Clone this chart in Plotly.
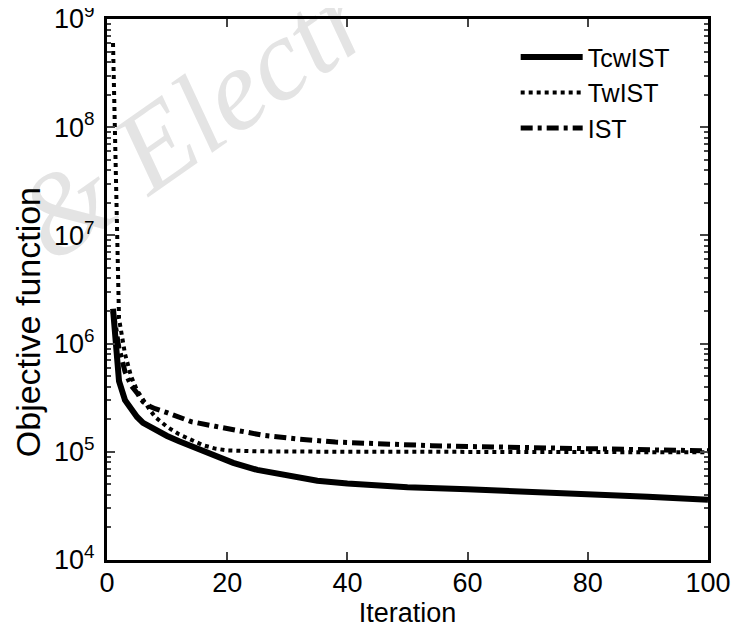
import plotly.graph_objects as go

# objective function per iteration
tcw_iter = [1, 2, 3, 4, 5, 6, 8, 10, 12, 15, 18, 21, 25, 30, 35, 40, 45, 50, 60, 70, 80, 90, 100]
tcw_obj = [2.1e6, 4.5e5, 3.0e5, 2.5e5, 2.1e5, 1.85e5, 1.58e5, 1.4e5, 1.25e5, 1.08e5, 9.2e4, 7.9e4,
           6.8e4, 6.0e4, 5.4e4, 5.1e4, 4.85e4, 4.7e4, 4.5e4, 4.3e4, 4.1e4, 3.85e4, 3.6e4]

tw_iter = [1, 2, 3, 4, 5, 6, 7, 8, 10, 12, 14, 16, 18, 20, 25, 30, 40, 50, 60, 70, 80, 90, 100]
tw_obj = [6e8, 1.7e6, 8e5, 5e5, 3.7e5, 3.0e5, 2.5e5, 2.1e5, 1.7e5, 1.45e5, 1.28e5, 1.15e5, 1.07e5,
          1.03e5, 1.01e5, 1.0e5, 1.0e5, 1.0e5, 1.0e5, 1.0e5, 1.0e5, 0.99e5, 0.99e5]

ist_iter = [1, 2, 3, 4, 5, 6, 7, 8, 10, 14, 18, 21, 26, 32, 38, 43, 48, 54, 60, 71, 80, 88, 100]
ist_obj = [2.0e6, 9e5, 5.5e5, 4.1e5, 3.5e5, 2.9e5, 2.65e5, 2.5e5, 2.3e5, 1.9e5, 1.72e5, 1.6e5, 1.42e5,
           1.31e5, 1.23e5, 1.2e5, 1.16e5, 1.14e5, 1.12e5, 1.09e5, 1.06e5, 1.04e5, 1.02e5]

y_tickvals = [1e4, 1e5, 1e6, 1e7, 1e8, 1e9]
y_ticktext = ['10<sup>4</sup>', '10<sup>5</sup>', '10<sup>6</sup>', '10<sup>7</sup>', '10<sup>8</sup>', '10<sup>9</sup>']
x_tickvals = [0, 20, 40, 60, 80, 100]

FONT = 'Liberation Sans, Arial, sans-serif'

fig = go.Figure()
fig.add_trace(go.Scatter(x=tcw_iter, y=tcw_obj, mode='lines', name='TcwIST',
                         line=dict(color='black', width=6)))
fig.add_trace(go.Scatter(x=tw_iter, y=tw_obj, mode='lines', name='TwIST',
                         line=dict(color='black', width=4, dash='dot')))
fig.add_trace(go.Scatter(x=ist_iter, y=ist_obj, mode='lines', name='IST',
                         line=dict(color='black', width=5, dash='12px,5px,4px,5px')))

# faint watermark behind the axes
fig.add_shape(type='rect', xref='paper', yref='paper', x0=0.126, x1=0.138, y0=0.829, y1=0.845,
              line=dict(width=0), layer='below',
              label=dict(text='&amp; Electr', textangle=-35, textposition='middle center',
                         font=dict(family='Liberation Serif, Times New Roman, serif', size=116,
                                   color='#e4e4e4', style='italic')))

# y label sits a little below the axis centre in the reference
fig.add_annotation(text='Objective function', xref='paper', yref='paper', x=-0.131, y=0.44,
                   xanchor='center', yanchor='middle', textangle=-90, showarrow=False,
                   font=dict(family=FONT, size=34, color='black'))

fig.update_xaxes(range=[0, 100], tickvals=x_tickvals, ticks='inside', ticklen=8, tickwidth=2,
                 showline=True, linecolor='black', linewidth=3, mirror='ticks', showgrid=False,
                 zeroline=False, automargin=False, ticklabelstandoff=-3,
                 title=dict(text='Iteration', standoff=0, font=dict(size=27)),
                 tickfont=dict(size=27, color='black'))
fig.update_yaxes(type='log', range=[3.9999, 9.0001], tickvals=y_tickvals, ticktext=y_ticktext,
                 ticks='inside', ticklen=8, tickwidth=2, ticklabeloverflow='allow',
                 minor=dict(ticks='inside', ticklen=4, tickwidth=2, dtick='D1', showgrid=False),
                 showline=True, linecolor='black', linewidth=3, mirror='ticks', showgrid=False,
                 zeroline=False, automargin=False, ticklabelstandoff=4,
                 tickfont=dict(size=27, color='black'))

# page adds an 8px body margin, so the figure is 8px smaller than the window
fig.update_layout(
    width=740, height=626,
    margin=dict(l=99, r=40, t=11, b=74),
    paper_bgcolor='white',
    plot_bgcolor='rgba(0,0,0,0)',
    font=dict(family=FONT, size=27, color='black'),
    showlegend=True,
    legend=dict(x=0.68, y=0.972, xanchor='left', yanchor='top', bgcolor='rgba(0,0,0,0)',
                font=dict(size=25), tracegroupgap=0, itemwidth=62),
)

fig.write_html('out.html')
